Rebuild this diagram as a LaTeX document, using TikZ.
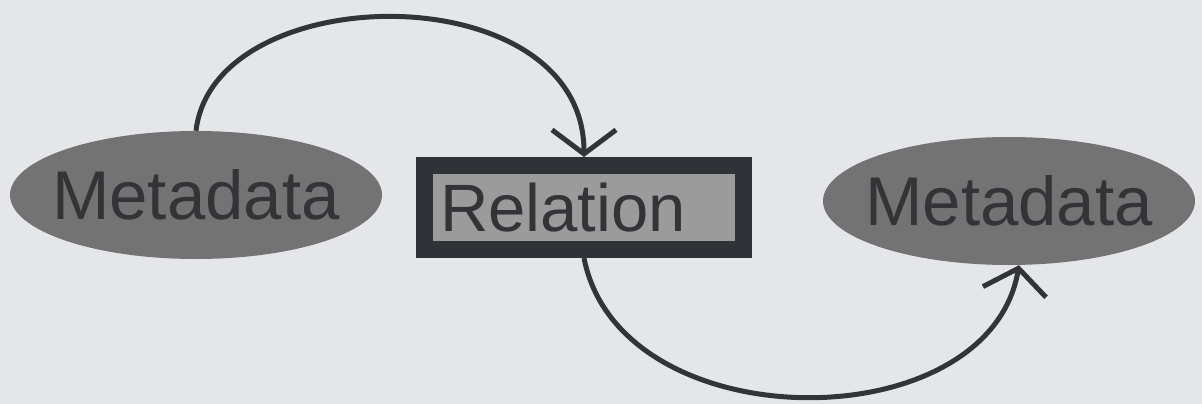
\documentclass[tikz,border=0pt]{standalone}
\usepackage{fontspec}
\setmainfont{Liberation Sans}
\usetikzlibrary{shapes.geometric,arrows.meta}
\definecolor{bgcol}{RGB}{228,230,234}
\definecolor{ellcol}{RGB}{115,115,116}
\definecolor{txtcol}{RGB}{50,52,56}
\definecolor{bordcol}{RGB}{47,50,54}
\definecolor{innercol}{RGB}{155,155,156}
\begin{document}
\begin{tikzpicture}[x=1pt,y=-1pt,
  metanode/.style={ellipse, fill=ellcol, minimum width=372pt, minimum height=128pt, inner sep=0pt,
    text=txtcol, font=\fontsize{69}{69}\selectfont},
  relnode/.style={rectangle, draw=bordcol, fill=innercol, line width=17pt, minimum width=319pt,
    minimum height=84pt, text width=288pt, inner sep=15pt, align=left,
    text=txtcol, font=\fontsize{67}{67}\selectfont},
  conn/.style={draw=txtcol, line width=5pt, -{Straight Barb[length=24pt,width=64pt,line width=5pt]}}]
\fill[bgcol] (0,0) rectangle (1202,404);
\useasboundingbox (0,0) rectangle (1202,404);
\node[metanode] (m1) at (196,195) {\raisebox{-4pt}{\makebox[0pt]{Metadata}}};
\node[relnode] (rel) at (584,207.5) {\raisebox{-3pt}{Relation}};
\node[metanode] (m2) at (1009,201) {\raisebox{-2pt}{\makebox[0pt]{Metadata}}};
\draw[conn] (m1.north) .. controls +(18,-154) and +(0,-184) .. (rel.north);
\draw[conn] (rel.south) .. controls +(36,184) and +(-30,177) .. ([xshift=10pt]m2.south);
\end{tikzpicture}
\end{document}
